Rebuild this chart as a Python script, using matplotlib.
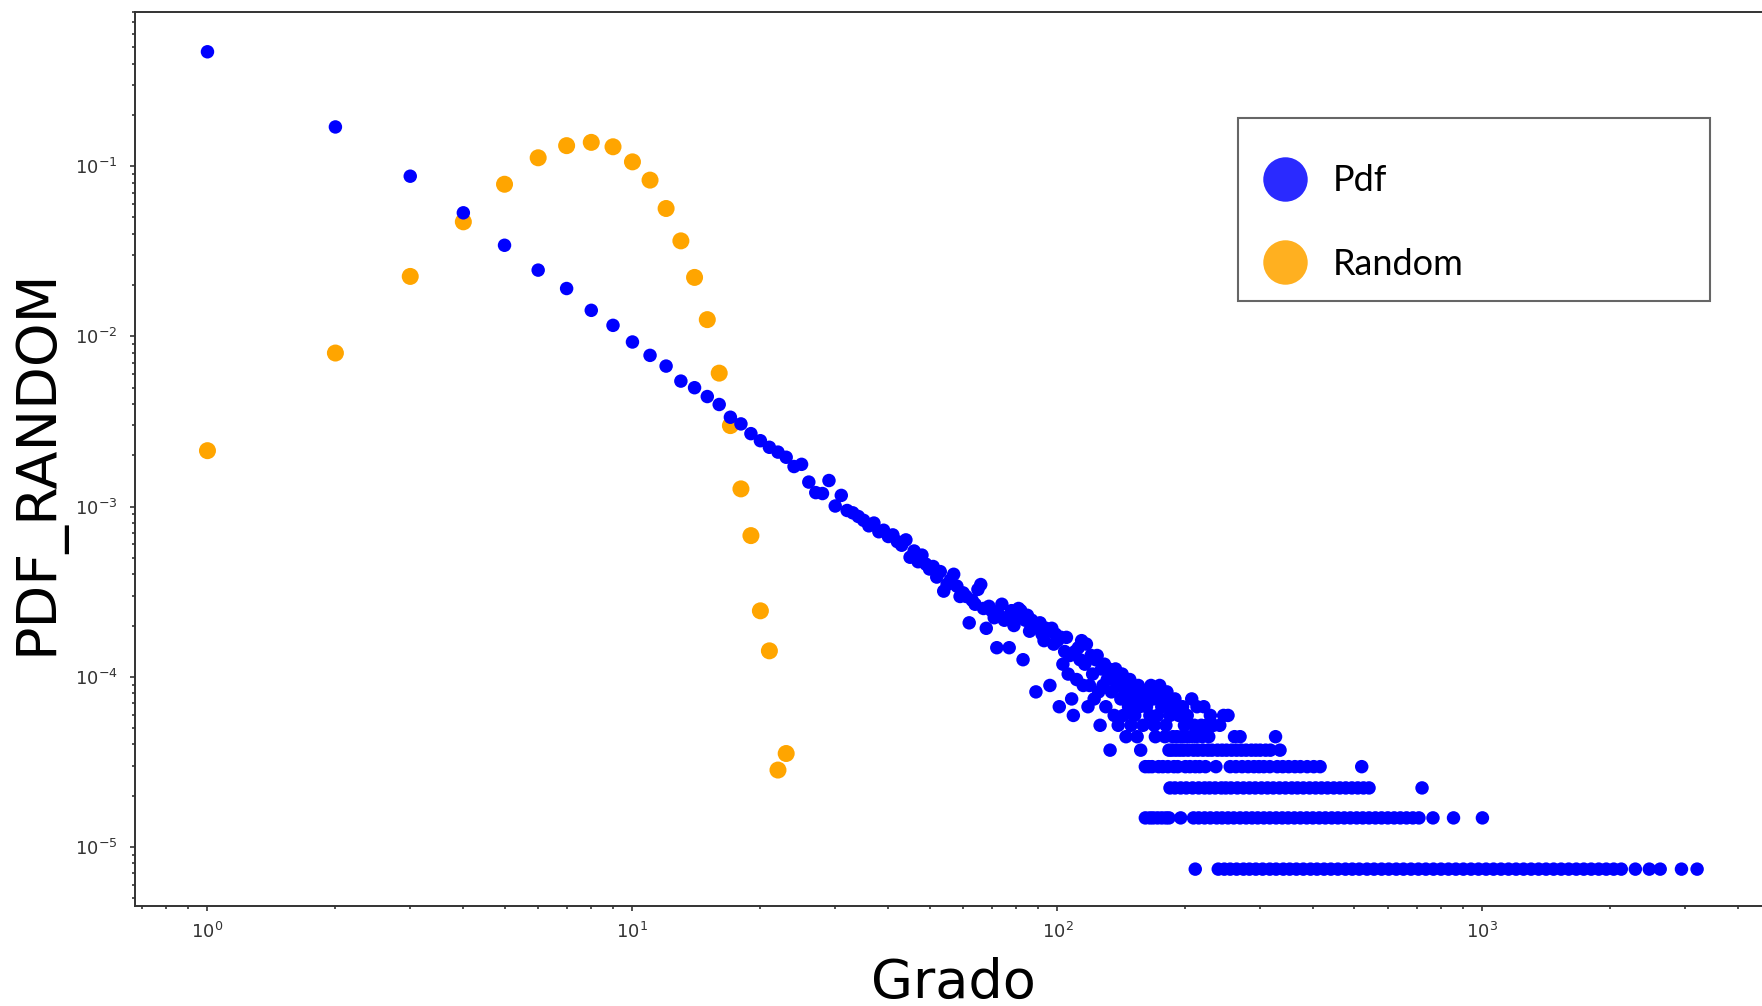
import matplotlib.pyplot as plt
import numpy as np
from matplotlib.lines import Line2D
from matplotlib.patches import Rectangle

# --- real network: number of nodes per degree -------------------------------
# degrees 1..160 one by one
head_degree = np.arange(1, 161)
head_count = [
    63450, 22950, 11786, 7182, 4630, 3308, 2579, 1920, 1567, 1251,
    1044, 903, 737, 674, 598, 537, 452, 413, 362, 329,
    301, 282, 263, 232, 239, 188, 163, 161, 192, 136,
    157, 128, 124, 118, 112, 104, 108, 96, 98, 90,
    92, 84, 80, 86, 68, 74, 64, 70, 62, 58,
    60, 52, 56, 43, 47, 50, 54, 46, 40, 42,
    40, 28, 38, 36, 44, 47, 34, 26, 35, 33,
    30, 20, 31, 36, 29, 30, 20, 33, 27, 30,
    34, 33, 17, 29, 31, 25, 29, 27, 11, 26,
    28, 24, 22, 26, 25, 12, 26, 21, 24, 22,
    9, 23, 16, 19, 23, 14, 18, 10, 8, 19,
    13, 20, 17, 22, 12, 16, 21, 9, 12, 18,
    14, 10, 17, 18, 11, 7, 15, 12, 16, 9,
    13, 15, 5, 11, 14, 8, 15, 12, 7, 13,
    10, 14, 8, 11, 6, 12, 9, 13, 7, 12,
    10, 8, 11, 6, 12, 9, 5, 10, 7, 11,
]

# degrees above 160, grouped by node count
tail_c12 = [166, 174]
tail_c11 = [163, 171, 181]
tail_c10 = [168, 178, 189, 207]
tail_c9 = [162, 176, 185, 197, 213, 221]
tail_c8 = [165, 172, 184, 193, 202, 229, 246, 252]
tail_c7 = [169, 180, 199, 210, 218, 224, 233, 241]
tail_c6 = [170, 179, 187, 191, 196, 201, 206, 212, 219, 227, 261, 269, 326]
tail_c5 = [183, 186, 190, 194, 198, 203, 209, 214, 220, 226, 231, 238, 244,
           250, 257, 264, 271, 278, 286, 293, 300, 309, 317, 334]
tail_c4 = [161, 164, 167, 173, 177, 182, 188, 192, 200, 205, 211, 216, 223,
           236, 255, 263, 272, 281, 290, 298, 306, 316, 329, 339, 350, 362,
           373, 387, 401, 415, 520]
tail_c3 = [184, 189, 195, 201, 208, 215, 222, 228, 235, 243, 249, 256, 265,
           274, 283, 292, 302, 312, 322, 333, 344, 356, 367, 379, 392, 405,
           418, 432, 447, 462, 477, 493, 509, 525, 541, 721]
tail_c2 = [161, 165, 168, 172, 176, 180, 183, 195, 209, 215, 222, 229, 237,
           244, 252, 260, 269, 278, 287, 296, 306, 316, 327, 338, 349, 361,
           373, 386, 399, 413, 427, 442, 457, 473, 489, 506, 523, 541, 560,
           579, 599, 620, 641, 663, 686, 709, 765, 855, 1000]
tail_c1 = [211, 239, 247, 255, 264, 274, 283, 293, 304, 316, 327, 340, 352,
           365, 379, 394, 408, 424, 440, 457, 476, 494, 513, 535, 556, 579,
           602, 627, 652, 679, 707, 736, 767, 799, 832, 866, 902, 940, 979,
           1020, 1062, 1106, 1152, 1200, 1250, 1302, 1356, 1412, 1471, 1532,
           1596, 1663, 1732, 1803, 1878, 1956, 2037, 2122, 2290, 2470, 2620,
           2940, 3200]

# --- random graph: pdf per degree ---------------------------------------------
random_degree = list(range(1, 24))
random_pdf = [
    2.13e-3, 7.98e-3, 0.0225, 0.0471, 0.0783, 0.112, 0.132, 0.138, 0.130,
    0.106, 0.0828, 0.0564, 0.0364, 0.0222, 0.01254, 6.08e-3, 2.99e-3,
    1.27e-3, 6.75e-4, 2.44e-4, 1.42e-4, 2.83e-5, 3.54e-5,
]

tails = [tail_c1, tail_c2, tail_c3, tail_c4, tail_c5, tail_c6,
         tail_c7, tail_c8, tail_c9, tail_c10, tail_c11, tail_c12]
pdf_degree = list(head_degree)
pdf_count = list(head_count)
for c, degs in enumerate(tails, start=1):
    pdf_degree += degs
    pdf_count += [c] * len(degs)
pdf_degree = np.array(pdf_degree)
pdf_value = np.array(pdf_count) / 135000

W, H = 1762, 1006
fig = plt.figure(figsize=(W / 100, H / 100), dpi=100)
ax = fig.add_axes([0.0766, 0.0994, 0.9285, 0.8887])

ax.scatter(random_degree, random_pdf, s=150, color="orange",
           edgecolors="none", zorder=2)
ax.scatter(pdf_degree, pdf_value, s=94, color="blue",
           edgecolors="none", zorder=3)

ax.set_xscale("log")
ax.set_yscale("log")
ax.set_xlim(10 ** -0.1706, 10 ** 3.679)
ax.set_ylim(10 ** -5.347, 10 ** -0.094)

for sp in ax.spines.values():
    sp.set_linewidth(1.4)
    sp.set_color("#333333")
ax.tick_params(which="both", labelsize=13, colors="#333333", width=1.2)
ax.tick_params(axis="x", which="both", pad=8)
ax.tick_params(axis="y", which="both", pad=9)

ax.set_xlabel("Grado", fontsize=39)
ax.set_ylabel("PDF_RANDOM", fontsize=40)
ax.xaxis.set_label_coords(0.5, -0.057)
ax.yaxis.set_label_coords(-0.043, 0.497)

# legend (the box is drawn separately so the entries sit where they should)
handles = [
    Line2D([], [], ls="none", marker="o", markersize=32,
           markerfacecolor="#2a2aff", markeredgecolor="none", label="Pdf"),
    Line2D([], [], ls="none", marker="o", markersize=32,
           markerfacecolor="#ffb020", markeredgecolor="none", label="Random"),
]
ax.legend(handles=handles, loc="center left", frameon=False,
          bbox_to_anchor=(1256.6 / W, 1 - 222.5 / H),
          bbox_transform=fig.transFigure, borderaxespad=0, borderpad=0,
          prop={"family": "Lato", "size": 26},
          labelspacing=1.39, handlelength=1.6, handletextpad=0.5)
fig.add_artist(Rectangle((1238 / W, 1 - 301 / H), 472 / W, 183 / H,
                         transform=fig.transFigure, fill=False,
                         edgecolor="#666666", linewidth=1.5))

fig.savefig("out.png", dpi=100)
